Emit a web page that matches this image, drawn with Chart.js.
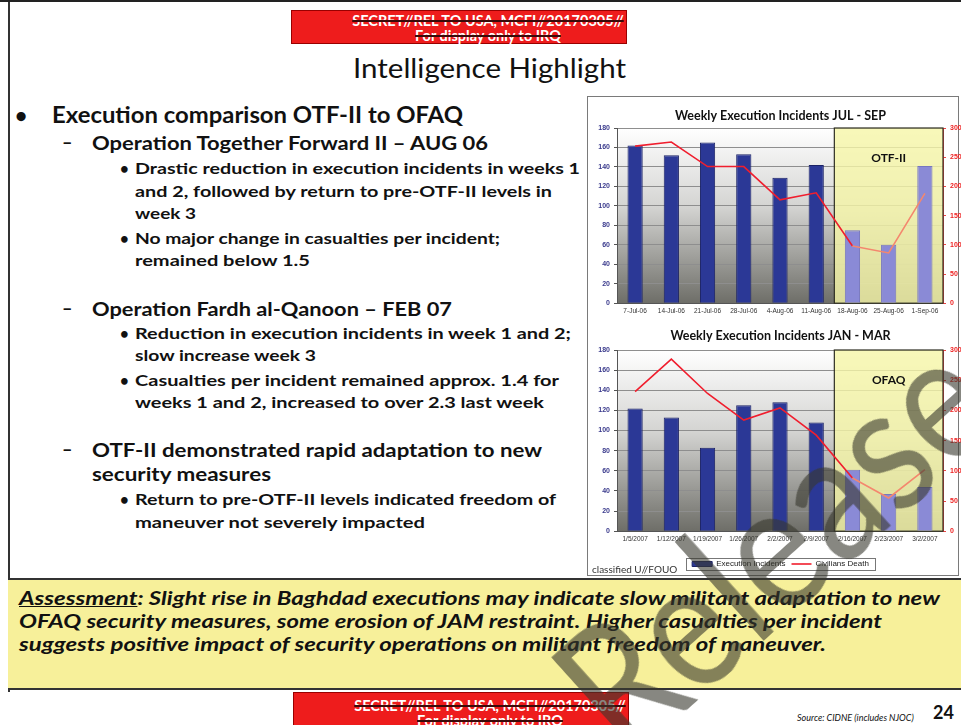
<!DOCTYPE html>
<html>
<head>
<meta charset="utf-8">
<script src="https://cdn.jsdelivr.net/npm/chart.js@4.4.1/dist/chart.umd.min.js"></script>
<style>
html, body { margin: 0; padding: 0; width: 961px; height: 725px; overflow: hidden; background: #fff; font-family: Lato, "Open Sans", sans-serif; }
.t { position: absolute; white-space: nowrap; transform-origin: 0 50%; color: #111; font-weight: bold; }
.banner { position: absolute; background: #ee1c1c; border: 1px solid #900; color: #fff; font-weight: bold; text-align: center; font-size: 14.5px; line-height: 15px; box-sizing: border-box; padding-left: 58px; white-space: nowrap; }
.banner span { text-decoration: line-through; text-decoration-color: #3a0a0a; text-decoration-thickness: 2px; }
#panel { position: absolute; left: 587px; top: 96px; width: 370px; height: 478px; border: 1px solid #7a7a7a; }
#assess { position: absolute; left: 8px; top: 578px; width: 960px; height: 108px; background: #f7f09a; border-top: 2px solid #333; border-bottom: 2px solid #333; }
.cv { position: absolute; left: 588px; }
#mark { position: absolute; left: 470px; top: 450px; font-size: 180px; font-family: Lato, sans-serif; color: rgba(55,55,45,0.6); transform: rotate(-42deg) scaleX(0.85); transform-origin: 50% 50%; white-space: nowrap; line-height: 1; }
</style>
</head>
<body>
<div style="position:absolute;left:0;top:0;width:961px;height:2px;background:#222"></div>
<div style="position:absolute;left:8px;top:2px;width:2px;height:690px;background:#333"></div>

<div class="banner" style="left:291px;top:10px;width:336px;height:34px;padding-top:2px">
  <span>SECRET//REL TO USA, MCFI//20170305//</span><br><span>For display only to IRQ</span>
</div>
<div class="banner" style="left:293px;top:692px;width:336px;height:40px;padding-top:5px">
  <span>SECRET//REL TO USA, MCFI//20170305//</span><br><span>For display only to IRQ</span>
</div>

<div id="text"></div>

<div id="panel"></div>
<canvas id="julChart" class="cv" width="385" height="218" style="top:100px;width:385px;height:218px"></canvas>
<canvas id="janChart" class="cv" width="385" height="260" style="top:320px;width:385px;height:260px"></canvas>
<div class="t" style="left:592px;top:563px;font-size:10px;font-weight:normal;color:#333">classified U//FOUO</div>

<div id="assess"></div>
<div id="assessText"></div>

<div class="t" style="left:797px;top:712px;font-size:9px;font-style:italic;font-weight:normal">Source: CIDNE (includes NJOC)</div>
<div class="t" style="left:933px;top:701px;font-size:18px">24</div>

<div id="mark">Release</div>

<script>
// chart data
var julLabels = ['7-Jul-06', '14-Jul-06', '21-Jul-06', '28-Jul-06', '4-Aug-06', '11-Aug-06', '18-Aug-06', '25-Aug-06', '1-Sep-06'];
var julIncidents = [162, 152, 165, 153, 129, 142, 75, 60, 141];
var julDeaths = [269, 276, 234, 234, 177, 189, 98, 86, 188];

var janLabels = ['1/5/2007', '1/12/2007', '1/19/2007', '1/26/2007', '2/2/2007', '2/9/2007', '2/16/2007', '2/23/2007', '3/2/2007'];
var janIncidents = [122, 113, 83, 125, 128, 108, 61, 37, 44];
var janDeaths = [231, 285, 228, 184, 204, 159, 88, 55, 102];

var incidentsMax = 180, incidentsStep = 20;
var deathsMax = 300, deathsStep = 50;

// slide text: [text, x, yCenter, size, targetWidth]
var lines = [
  ['Intelligence Highlight', 353, 68, 27, 273, 'normal'],
  ['\u2022', 15, 115, 21, 0],
  ['Execution comparison OTF-II to OFAQ', 52, 115, 22, 411],
  ['\u2013', 62, 143, 18, 0],
  ['Operation Together Forward II \u2013 AUG 06', 92, 143, 18.5, 396],
  ['\u2022', 120, 168, 15, 0],
  ['Drastic reduction in execution incidents in weeks 1', 135, 168, 16, 445],
  ['and 2, followed by return to pre-OTF-II levels in', 135, 191, 16, 417],
  ['week 3', 135, 213, 16, 61],
  ['\u2022', 120, 238, 15, 0],
  ['No major change in casualties per incident;', 135, 238, 16, 365],
  ['remained below 1.5', 135, 260, 16, 175],
  ['\u2013', 62, 309, 18, 0],
  ['Operation Fardh al-Qanoon \u2013 FEB 07', 92, 309, 18.5, 360],
  ['\u2022', 120, 333, 15, 0],
  ['Reduction in execution incidents in week 1 and 2;', 135, 333, 16, 436],
  ['slow increase week 3', 135, 355, 16, 181],
  ['\u2022', 120, 380, 15, 0],
  ['Casualties per incident remained approx. 1.4 for', 135, 380, 16, 424],
  ['weeks 1 and 2, increased to over 2.3 last week', 135, 402, 16, 409],
  ['\u2013', 62, 450, 18, 0],
  ['OTF-II demonstrated rapid adaptation to new', 92, 450, 18.5, 450],
  ['security measures', 92, 474, 18.5, 179],
  ['\u2022', 120, 499, 15, 0],
  ['Return to pre-OTF-II levels indicated freedom of', 135, 499, 16, 421],
  ['maneuver not severely impacted', 135, 522, 16, 290]
];
var assessLines = [
  ['<u>Assessment</u>:  Slight rise in Baghdad executions may indicate slow militant adaptation to new', 19, 598, 19, 921],
  ['OFAQ security measures, some erosion of JAM restraint.  Higher casualties per incident', 19, 621, 19, 863],
  ['suggests positive impact of security operations on militant freedom of maneuver.', 19, 644, 19, 807]
];

function place(list, holder, italic) {
  var box = document.getElementById(holder);
  list.forEach(function (l) {
    var d = document.createElement('div');
    d.className = 't';
    d.innerHTML = l[0];
    d.style.left = l[1] + 'px';
    d.style.top = (l[2] - l[3] * 0.6) + 'px';
    d.style.fontSize = l[3] + 'px';
    d.style.lineHeight = (l[3] * 1.2) + 'px';
    if (l[5]) d.style.fontWeight = l[5];
    if (italic) d.style.fontStyle = 'italic';
    box.appendChild(d);
    if (l[4]) {
      var w = d.getBoundingClientRect().width;
      d.style.transform = 'scaleX(' + (l[4] / w) + ')';
    }
  });
}
place(lines, 'text', false);
place(assessLines, 'assessText', true);

var panelBg = {
  id: 'panelBg',
  beforeDraw: function (chart) {
    var a = chart.chartArea, c = chart.ctx;
    var g = c.createLinearGradient(0, a.top, 0, a.bottom);
    g.addColorStop(0, '#ffffff');
    g.addColorStop(0.45, '#d4d4d2');
    g.addColorStop(1, '#6e6e68');
    c.save();
    c.fillStyle = g;
    c.fillRect(a.left, a.top, a.right - a.left, a.bottom - a.top);
    c.restore();
  },
  beforeDatasetsDraw: function (chart, args, opts) {
    var a = chart.chartArea, c = chart.ctx;
    var x0 = chart.scales.x.getPixelForValue(opts.from - 0.5);
    c.save();
    c.fillStyle = 'rgba(246,246,168,0.8)';
    c.fillRect(x0, a.top, a.right - x0, a.bottom - a.top);
    c.strokeStyle = '#2e2e22';
    c.lineWidth = 1.2;
    c.strokeRect(x0, a.top, a.right - x0, a.bottom - a.top);
    c.fillStyle = '#111';
    c.font = 'bold 12px Lato';
    c.textAlign = 'center';
    c.textBaseline = 'middle';
    c.fillText(opts.label, x0 + (a.right - x0) / 2, a.top + opts.labelY);
    c.restore();
  },
  afterDraw: function (chart) {
    var lg = chart.legend;
    if (!lg || !chart.options.plugins.legend.display) return;
    var c = chart.ctx;
    var w = 0;
    lg.lineWidths.forEach(function (v) { w = Math.max(w, v); });
    var h = 12;
    var cx = (lg.left + lg.right) / 2, cy = lg.legendHitBoxes.length ? lg.legendHitBoxes[0].top + lg.legendHitBoxes[0].height / 2 : lg.top + lg.height / 2;
    c.save();
    c.strokeStyle = '#777';
    c.lineWidth = 1;
    c.strokeRect(Math.round(cx - w / 2 - 3) + 0.5, Math.round(cy - h / 2) + 0.5, Math.round(w + 6), h);
    c.restore();
  }
};

function barColors(n, from) {
  var out = [];
  for (var i = 0; i < n; i++) out.push(i >= from ? '#8a8ad6' : '#2b3896');
  return out;
}

function makeChart(id, title, labels, incidents, deaths, boxLabel, titlePad, showLegend, extraAxis) {
  return new Chart(document.getElementById(id), {
    type: 'bar',
    data: {
      labels: labels,
      datasets: [{
        label: 'Execution Incidents',
        data: incidents,
        backgroundColor: barColors(labels.length, 6),
        borderColor: barColors(labels.length, 6).map(function (c) { return c === '#2b3896' ? '#1b2266' : '#7676c0'; }),
        borderWidth: 1,
        barPercentage: 0.42,
        categoryPercentage: 1,
        pointStyle: 'rect',
        yAxisID: 'y',
        order: 2
      }, {
        type: 'line',
        label: 'Civilians Death',
        data: deaths,
        borderColor: '#f01e2e',
        backgroundColor: '#f01e2e',
        borderWidth: 1.6,
        pointRadius: 0,
        pointStyle: 'line',
        tension: 0,
        yAxisID: 'y1',
        order: 1,
        segment: {
          borderColor: function (ctx) { return ctx.p0DataIndex >= 6 ? '#f4876e' : undefined; }
        }
      }]
    },
    options: {
      responsive: false,
      animation: false,
      layout: { padding: { left: 0, right: 0, top: 0, bottom: 2 } },
      plugins: {
        title: {
          display: true,
          text: title,
          color: '#111',
          font: { family: 'Lato', size: 12.5, weight: 'bold' },
          padding: titlePad
        },
        legend: {
          display: showLegend,
          position: 'bottom',
          labels: {
            usePointStyle: true,
            pointStyleWidth: 20,
            boxHeight: 5,
            padding: 6,
            color: '#222',
            font: { family: 'Liberation Sans', size: 8 },
            sort: function (a, b) { return a.datasetIndex - b.datasetIndex; }
          }
        },
        tooltip: { enabled: false },
        panelBg: { from: 6, label: boxLabel, labelY: 30 }
      },
      scales: {
        x: {
          grid: { display: false, tickLength: 3 },
          border: { color: '#555' },
          ticks: { color: '#333', font: { family: 'Liberation Sans', size: 6.5 }, maxRotation: 0, autoSkip: false, padding: 1 },
          afterFit: function (s) { s.height += extraAxis; }
        },
        y: {
          position: 'left',
          min: 0,
          max: incidentsMax,
          ticks: { stepSize: incidentsStep, color: '#3a3a8c', font: { family: 'Liberation Sans', size: 7, weight: 'bold' }, padding: 4 },
          grid: { color: '#8e8e8e', tickLength: 3, tickColor: '#555' },
          border: { color: '#555' },
          afterFit: function (s) { s.width = 29; }
        },
        y1: {
          position: 'right',
          min: 0,
          max: deathsMax,
          ticks: { stepSize: deathsStep, color: '#ee2222', font: { family: 'Liberation Sans', size: 7, weight: 'bold' }, padding: 4 },
          grid: { drawOnChartArea: false, tickLength: 3, color: '#e44' },
          border: { color: '#e44' },
          afterFit: function (s) { s.width = 30; }
        }
      }
    },
    plugins: [panelBg]
  });
}

makeChart('julChart', 'Weekly Execution Incidents JUL - SEP', julLabels, julIncidents, julDeaths, 'OTF-II', { top: 8, bottom: 5 }, false, 0);
makeChart('janChart', 'Weekly Execution Incidents JAN - MAR', janLabels, janIncidents, janDeaths, 'OFAQ', { top: 8, bottom: 7 }, true, 10);
</script>
</body>
</html>
